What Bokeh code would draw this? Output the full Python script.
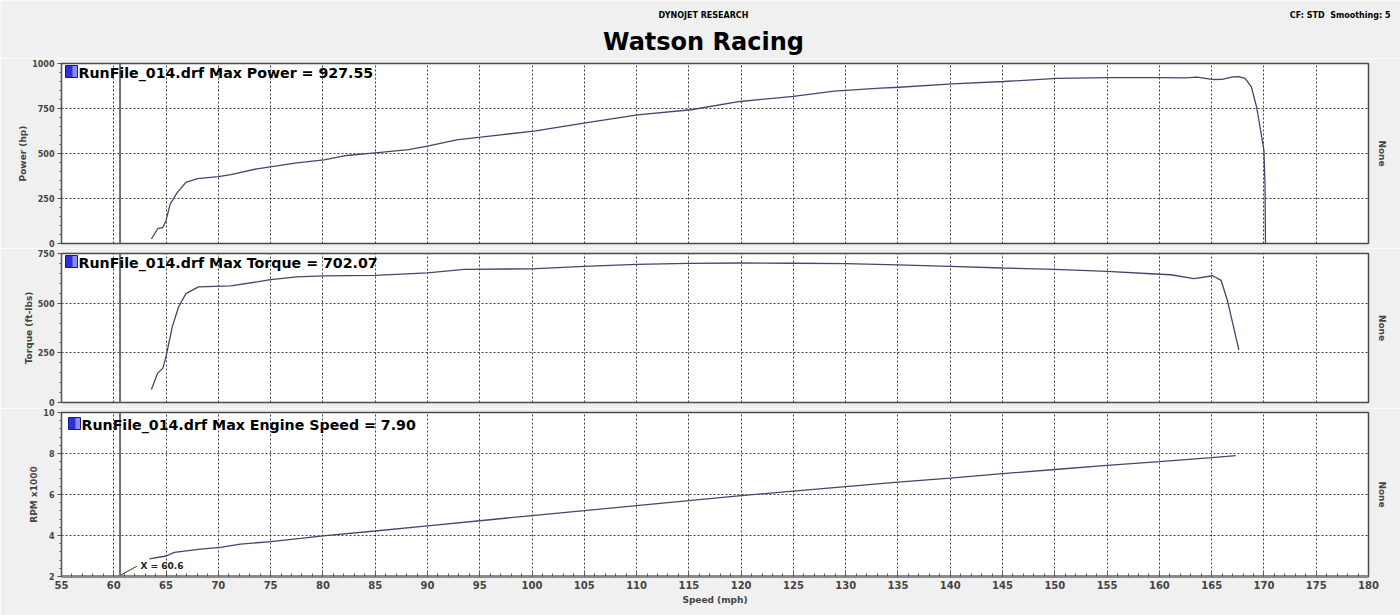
from bokeh.plotting import figure
from bokeh.layouts import column
from bokeh.models import (LinearAxis, SingleIntervalTicker, FixedTicker, Span, Label,
                          BoxAnnotation, Range1d, ColumnDataSource)
from bokeh.embed import file_html
from bokeh.resources import INLINE

# ---------------- data ----------------
title_text = "Watson Racing"
top_center_text = "DYNOJET RESEARCH"
top_right_text = "CF: STD\u00a0 Smoothing: 5"
run_name = "RunFile_014.drf"
x_label = "Speed (mph)"

pw_mph = [63.6, 64.2, 64.7, 65.0, 65.4, 66.1, 66.9, 68.0, 70.0, 71.2, 73.7, 77.5, 80.1, 82.3, 85.0,
          88.2, 90.0, 92.8, 95.1, 97.0, 100.2, 105.1, 110.1, 115.2, 119.9, 125.0, 128.9, 133.3,
          135.1, 140.2, 145.1, 150.2, 155.2, 160.3, 162.5, 163.6, 165.2, 166.0, 167.0, 167.6,
          168.2, 168.8, 169.3, 169.65, 170.0, 170.1, 170.15]
pw_hp = [25, 82, 90, 128, 220, 285, 340, 360, 372, 383, 415, 448, 465, 489, 504,
         522, 541, 576, 591, 604, 624, 670, 715, 743, 789, 817, 846, 863,
         868, 887, 900, 917, 921, 921, 920, 924, 911, 912, 926, 927.55,
         918, 870, 757, 640, 517, 330, 0]

tq_mph = [63.6, 64.2, 64.7, 65.0, 65.6, 66.2, 66.9, 68.1, 71.2, 75.0, 77.5, 80.1, 85.0, 90.0,
          93.5, 99.9, 105.0, 110.0, 115.0, 120.0, 125.0, 130.0, 135.0, 140.0, 145.0, 150.0,
          155.0, 159.2, 161.1, 163.3, 165.1, 165.9, 166.5, 167.6]
tq_ftlb = [65, 148, 173, 232, 382, 482, 548, 582, 587, 618, 632, 637, 640, 652,
           670, 673, 685, 695, 700, 702.07, 701, 699, 693, 685, 677, 670,
           660, 648, 643, 623, 638, 615, 515, 265]

rpm_mph = [63.4, 65.0, 65.8, 68.3, 70.2, 72.1, 75.0, 77.9, 80.0, 85.0, 90.0, 95.0, 100.0, 105.0,
           110.0, 115.0, 120.0, 125.0, 130.0, 135.0, 140.0, 145.0, 150.0, 155.0, 160.0, 165.0, 167.3]
rpm_k = [2.86, 3.0, 3.18, 3.34, 3.42, 3.58, 3.70, 3.86, 3.98, 4.22, 4.47, 4.72, 4.97, 5.21,
         5.46, 5.70, 5.95, 6.16, 6.38, 6.60, 6.80, 7.02, 7.22, 7.42, 7.60, 7.80, 7.90]

cursor_x = 60.6
x_min, x_max = 55, 180

panels = [
    dict(x=pw_mph, y=pw_hp, ylabel="Power (hp)", yr=(0, 1000), step=250,
         legend=f"{run_name} Max Power = 927.55"),
    dict(x=tq_mph, y=tq_ftlb, ylabel="Torque (ft-lbs)", yr=(0, 750), step=250,
         legend=f"{run_name} Max Torque = 702.07"),
    dict(x=rpm_mph, y=rpm_k, ylabel="RPM x1000", yr=(2, 10), step=2,
         legend=f"{run_name} Max Engine Speed = 7.90"),
]

# ---------------- styling ----------------
FONT = "DejaVu Sans"
BG = "#f0f0f0"
LINE = "#45456e"
W = 1400
LEFT, RIGHT = 61, 32
xr = Range1d(x_min, x_max)

HEADER_H = 58
heights = [190, 160, 207]
tops = [5, 5, 4]
bottoms = [5, 6, 39]
legend_dx = [0, 0, 3]
legend_dy = [0, 0, 3]

# header strip: full-width frame, not aligned with the panel frames
hdr = figure(width=W, height=HEADER_H, x_range=Range1d(0, W),
             y_range=Range1d(HEADER_H, 0), output_backend="svg", toolbar_location=None,
             x_axis_location=None, y_axis_location=None, min_border=0)
hdr.frame_align = False
hdr.grid.visible = False
hdr.outline_line_color = None
hdr.background_fill_color = BG
hdr.border_fill_color = BG
hdr.add_layout(Label(x=W / 2 + 3, y=41, text=title_text, text_font=FONT,
                     text_font_style="bold", text_font_size="24px", text_align="center",
                     text_baseline="middle", text_color="#000000"))
hdr.add_layout(Label(x=W / 2 + 3, y=15, text=top_center_text, text_font=FONT,
                     text_font_style="bold", text_font_size="8px", text_align="center",
                     text_baseline="middle", text_color="#000000"))
hdr.add_layout(Label(x=W - 10, y=15, text=top_right_text, text_font=FONT,
                     text_font_style="bold", text_font_size="8px", text_align="right",
                     text_baseline="middle", text_color="#000000"))

figs = [hdr]
for i, pn in enumerate(panels):
    last = i == len(panels) - 1
    p = figure(width=W, height=heights[i], x_range=xr,
               y_range=Range1d(*pn["yr"]), output_backend="svg", toolbar_location=None,
               x_axis_location="below" if last else None,
               min_border_left=LEFT, min_border_right=RIGHT,
               min_border_top=tops[i], min_border_bottom=bottoms[i])
    p.border_fill_color = BG
    p.background_fill_color = "white"
    p.outline_line_color = "#4a4a4a"
    p.outline_line_width = 1.5

    xt = SingleIntervalTicker(interval=5, num_minor_ticks=5)
    yt = SingleIntervalTicker(interval=pn["step"], num_minor_ticks=5)
    for g in p.xgrid:
        g.ticker = xt
    for g in p.ygrid:
        g.ticker = yt
    for g in list(p.xgrid) + list(p.ygrid):
        g.grid_line_color = "#222222"
        g.grid_line_dash = "2 2"
        g.grid_line_width = 1
        g.grid_line_alpha = 0.85

    ya = p.yaxis[0]
    ya.ticker = yt
    ya.axis_label = pn["ylabel"]
    ya.axis_label_text_font = FONT
    ya.axis_label_text_font_style = "bold"
    ya.axis_label_text_font_size = "9px"
    ya.axis_label_standoff = 1
    ya.major_label_text_font = FONT
    ya.major_label_text_font_style = "bold"
    ya.major_label_text_font_size = "8px"
    ya.major_label_standoff = 3
    ya.major_tick_out = 4
    ya.major_tick_in = 0
    ya.minor_tick_out = 2
    ya.minor_tick_in = 0
    ya.axis_line_color = "#555555"
    ya.major_tick_line_color = "#555555"
    ya.minor_tick_line_color = "#555555"

    ra = LinearAxis(axis_label="None", ticker=FixedTicker(ticks=[]),
                    major_tick_line_color=None, minor_tick_line_color=None,
                    axis_line_color=None, axis_label_standoff=8,
                    axis_label_text_font=FONT, axis_label_text_font_style="bold",
                    axis_label_text_font_size="9px")
    p.add_layout(ra, "right")

    if last:
        xa = p.xaxis[0]
        xa.ticker = xt
        xa.axis_label = x_label
        xa.axis_label_text_font = FONT
        xa.axis_label_text_font_style = "bold"
        xa.axis_label_text_font_size = "9px"
        xa.axis_label_standoff = 3
        xa.major_label_text_font = FONT
        xa.major_label_text_font_style = "bold"
        xa.major_label_text_font_size = "10px"
        xa.major_label_standoff = 4
        xa.major_tick_in = 4
        xa.major_tick_out = 0
        xa.minor_tick_in = 3
        xa.minor_tick_out = 0
        xa.axis_line_color = "#8a8a8a"
        xa.axis_line_width = 3
        xa.major_tick_line_color = "#555555"
        xa.minor_tick_line_color = "#555555"

    src = ColumnDataSource(dict(x=pn["x"], y=pn["y"]))
    p.line("x", "y", source=src, line_color=LINE, line_width=1.3)

    p.add_layout(Span(location=cursor_x, dimension="height", line_color="#707070",
                      line_width=2))

    # legend-style header inside the panel: blue square + bold text
    frame_h = heights[i] - tops[i] - bottoms[i]
    y0, y1 = pn["yr"]
    mpp = (x_max - x_min) / (W - LEFT - RIGHT)
    vpp = (y1 - y0) / frame_h
    dx, dy = legend_dx[i], legend_dy[i]
    p.add_layout(BoxAnnotation(left=x_min + (4 + dx) * mpp, right=x_min + (16 + dx) * mpp,
                               top=y1 - (2 + dy) * vpp, bottom=y1 - (14 + dy) * vpp,
                               fill_color="#2f2fd8", fill_alpha=1, line_color="#1a1a70",
                               line_width=1, line_alpha=1))
    p.add_layout(BoxAnnotation(left=x_min + (11 + dx) * mpp, right=x_min + (15.5 + dx) * mpp,
                               top=y1 - (2.5 + dy) * vpp, bottom=y1 - (13.5 + dy) * vpp,
                               fill_color="#8a8af2", fill_alpha=1, line_alpha=0))
    p.add_layout(Label(x=x_min + (17 + dx) * mpp, y=y1 - (1 + dy) * vpp, text=pn["legend"],
                       text_font=FONT, text_font_style="bold", text_font_size="14.2px",
                       text_baseline="top", text_color="#000000"))

    if last:
        p.segment(x0=[cursor_x], y0=[y0 + 0.05], x1=[cursor_x + 1.6], y1=[y0 + 0.5],
                  line_color="#333333", line_width=1)
        p.add_layout(Label(x=cursor_x + 1.95, y=y0 + 0.53, text=f"X = {cursor_x}",
                           text_font=FONT, text_font_style="bold", text_font_size="9px",
                           text_baseline="middle", text_color="#222222"))

    figs.append(p)

layout = column(*figs, spacing=0)
open("out.html", "w").write(file_html(layout, INLINE))
